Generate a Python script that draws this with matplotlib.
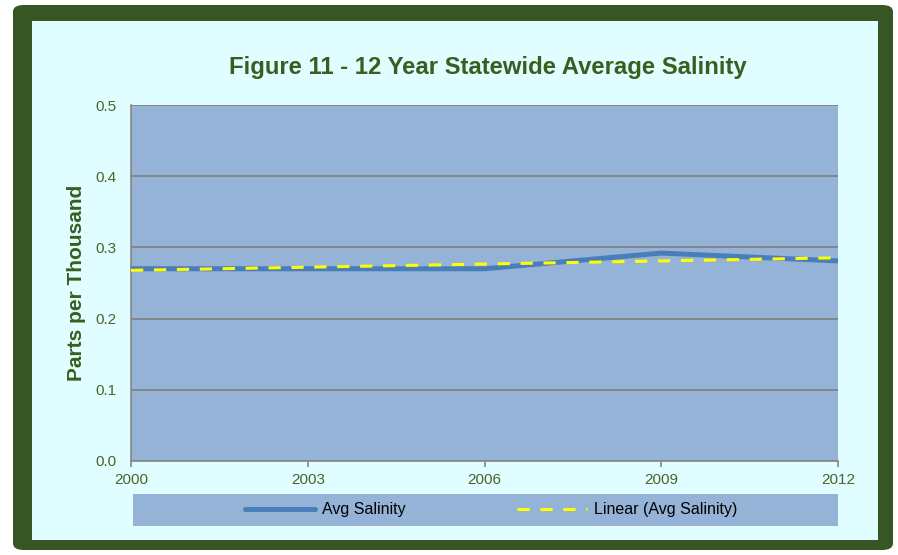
import numpy as np
import matplotlib
matplotlib.use("Agg")
import matplotlib.pyplot as plt
from matplotlib.patches import FancyBboxPatch

plt.rcParams['font.family'] = ['Liberation Sans', 'DejaVu Sans']

# data
years = [2000, 2003, 2006, 2009, 2012]
avg_salinity = [0.270, 0.270, 0.270, 0.292, 0.281]
x_ticks = [2000, 2003, 2006, 2009, 2012]
y_ticks = [0.0, 0.1, 0.2, 0.3, 0.4, 0.5]

dark_green = '#375623'
text_green = '#4F6228'
title_green = '#3B5E1F'
plot_bg = '#95B3D7'

# linear trend line like excel
coef = np.polyfit(years, avg_salinity, 1)
trend = np.polyval(coef, [years[0], years[-1]])

fig = plt.figure(figsize=(8.98, 5.55), dpi=100)
fig.patch.set_facecolor('white')

# outer frame + inner panel
outer = FancyBboxPatch((13/898, 5/555), (893-13)/898, (550-5)/555,
                       boxstyle="round,pad=0,rounding_size=0.012",
                       transform=fig.transFigure, facecolor=dark_green,
                       edgecolor='none', zorder=-2)
inner = FancyBboxPatch((32/898, 15/555), (878-32)/898, (537-18)/555,
                       boxstyle="square,pad=0", transform=fig.transFigure,
                       facecolor='#E0FDFF', edgecolor='none', zorder=-1)
fig.patches.extend([outer, inner])

ax = fig.add_axes([0.1459, 0.1694, 0.7873, 0.6414])
ax.set_facecolor(plot_bg)
ax.plot(years, avg_salinity, color='#4A7EBB', lw=3.6, solid_capstyle='round',
        label='Avg Salinity', zorder=3)
ax.plot([years[0], years[-1]], trend, color='#FFFF00', lw=2.2,
        dashes=(4, 3.5), label='Linear (Avg Salinity)', zorder=4)

ax.set_xlim(2000, 2012)
ax.set_ylim(0, 0.5)
ax.set_xticks(x_ticks)
ax.set_yticks(y_ticks)
ax.set_yticklabels([f'{v:.1f}' for v in y_ticks])
ax.grid(axis='y', color='#7F7F7F', lw=1.2)
ax.set_axisbelow(True)
for s in ['top', 'right']:
    ax.spines[s].set_visible(False)
for s in ['left', 'bottom']:
    ax.spines[s].set_color('#868686')
    ax.spines[s].set_linewidth(1.2)
ax.tick_params(axis='x', colors='#868686', labelcolor=text_green, length=4,
               width=1.2, labelsize=11, pad=5)
ax.tick_params(axis='y', length=0, labelcolor=text_green, labelsize=11, pad=10.5)

fig.text(0.543, 0.879, 'Figure 11 - 12 Year Statewide Average Salinity',
         ha='center', va='center', fontsize=17.2, fontweight='bold', color=title_green)
fig.text(0.085, 0.49, 'Parts per Thousand', rotation=90, ha='center',
         va='center', fontsize=15, fontweight='bold', color=title_green)

# legend strip below the plot
lax = fig.add_axes([0.1481, 0.0523, 0.785, 0.0577])
lax.set_facecolor(plot_bg)
lax.set_xticks([])
lax.set_yticks([])
for s in lax.spines.values():
    s.set_visible(False)
h, l = ax.get_legend_handles_labels()
lax.legend(h, l, loc='center', ncol=2, frameon=False, fontsize=11.5,
           handlelength=4.4, handletextpad=0.4, columnspacing=7.0,
           bbox_to_anchor=(0.508, 0.5))

fig.savefig('out.png', dpi=100)
